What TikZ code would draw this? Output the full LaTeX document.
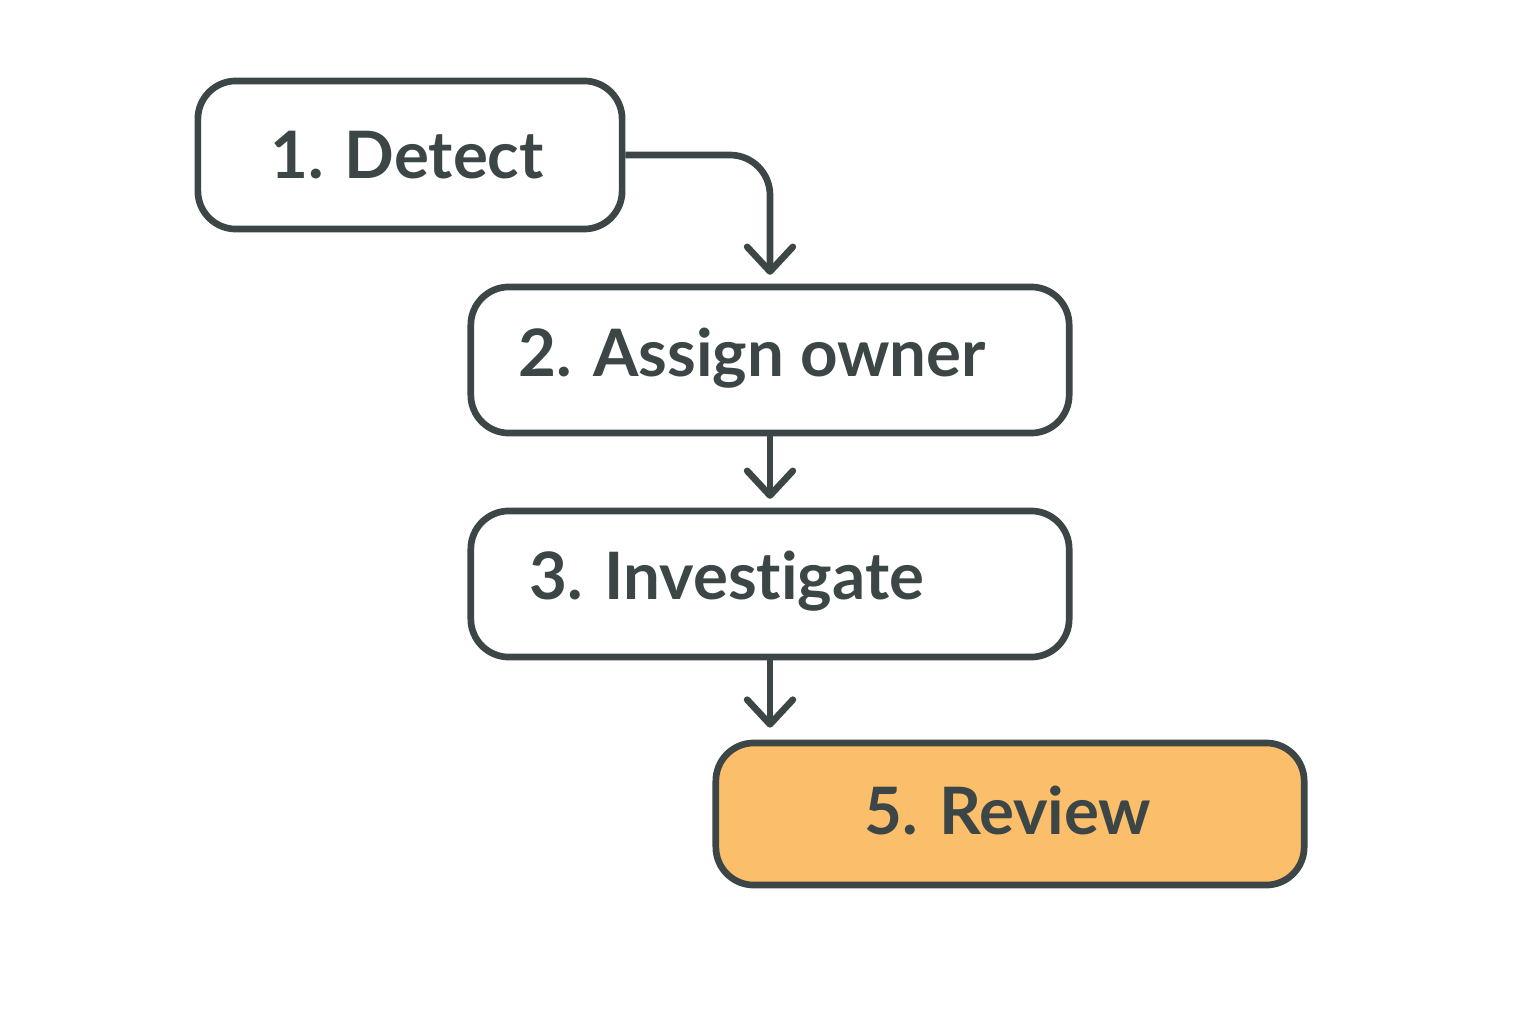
\documentclass[tikz,border=0pt]{standalone}
\usepackage{fontspec}
\setmainfont{Lato}[Ligatures=NoCommon]
\usetikzlibrary{arrows.meta,positioning,calc}
\definecolor{Ink}{HTML}{3D4646}
\definecolor{ReviewFill}{HTML}{FBBE6B}

\begin{document}
\begin{tikzpicture}[x=0.01cm,y=-0.01cm,
  stagebox/.style={draw=Ink,line width=1.9pt,rounded corners=0.38cm,fill=white,inner sep=0pt},
  stagetext/.style={font=\fontsize{18.6}{22}\selectfont\bfseries,text=Ink,inner sep=0pt},
  flow/.style={draw=Ink,line width=1.9pt,-{Straight Barb[length=7pt,width=13pt,round]}}]
\useasboundingbox (0,0) rectangle (1536,1024);
% stage boxes
\node[stagebox,minimum width=4.24cm,minimum height=1.48cm] (detect) at (410,155) {};
\node[stagebox,minimum width=5.98cm,minimum height=1.46cm] (assign) at (770,360) {};
\node[stagebox,minimum width=5.98cm,minimum height=1.46cm] (investigate) at (770,584) {};
\node[stagebox,fill=ReviewFill,minimum width=5.88cm,minimum height=1.42cm] (review) at (1010,814) {};
% stage labels
\node[stagetext] (detectlabel) at (407,155) {1. Detect};
\node[stagetext] (assignlabel) at (752,358) {2. Assign owner};
\node[stagetext] (investigatelabel) at (727,581) {3. Investigate};
\node[stagetext] (reviewlabel) at (1008,811) {5. Review};
% connectors
\draw[flow,rounded corners=0.4cm,shorten >=2.5pt] (detect.east) -| (assign.north);
\draw[flow,shorten >=2.5pt] (assign.south) -- (investigate.north);
\draw[flow,shorten >=3.4pt] (investigate.south) -- (investigate.south |- review.north);
\end{tikzpicture}
\end{document}
